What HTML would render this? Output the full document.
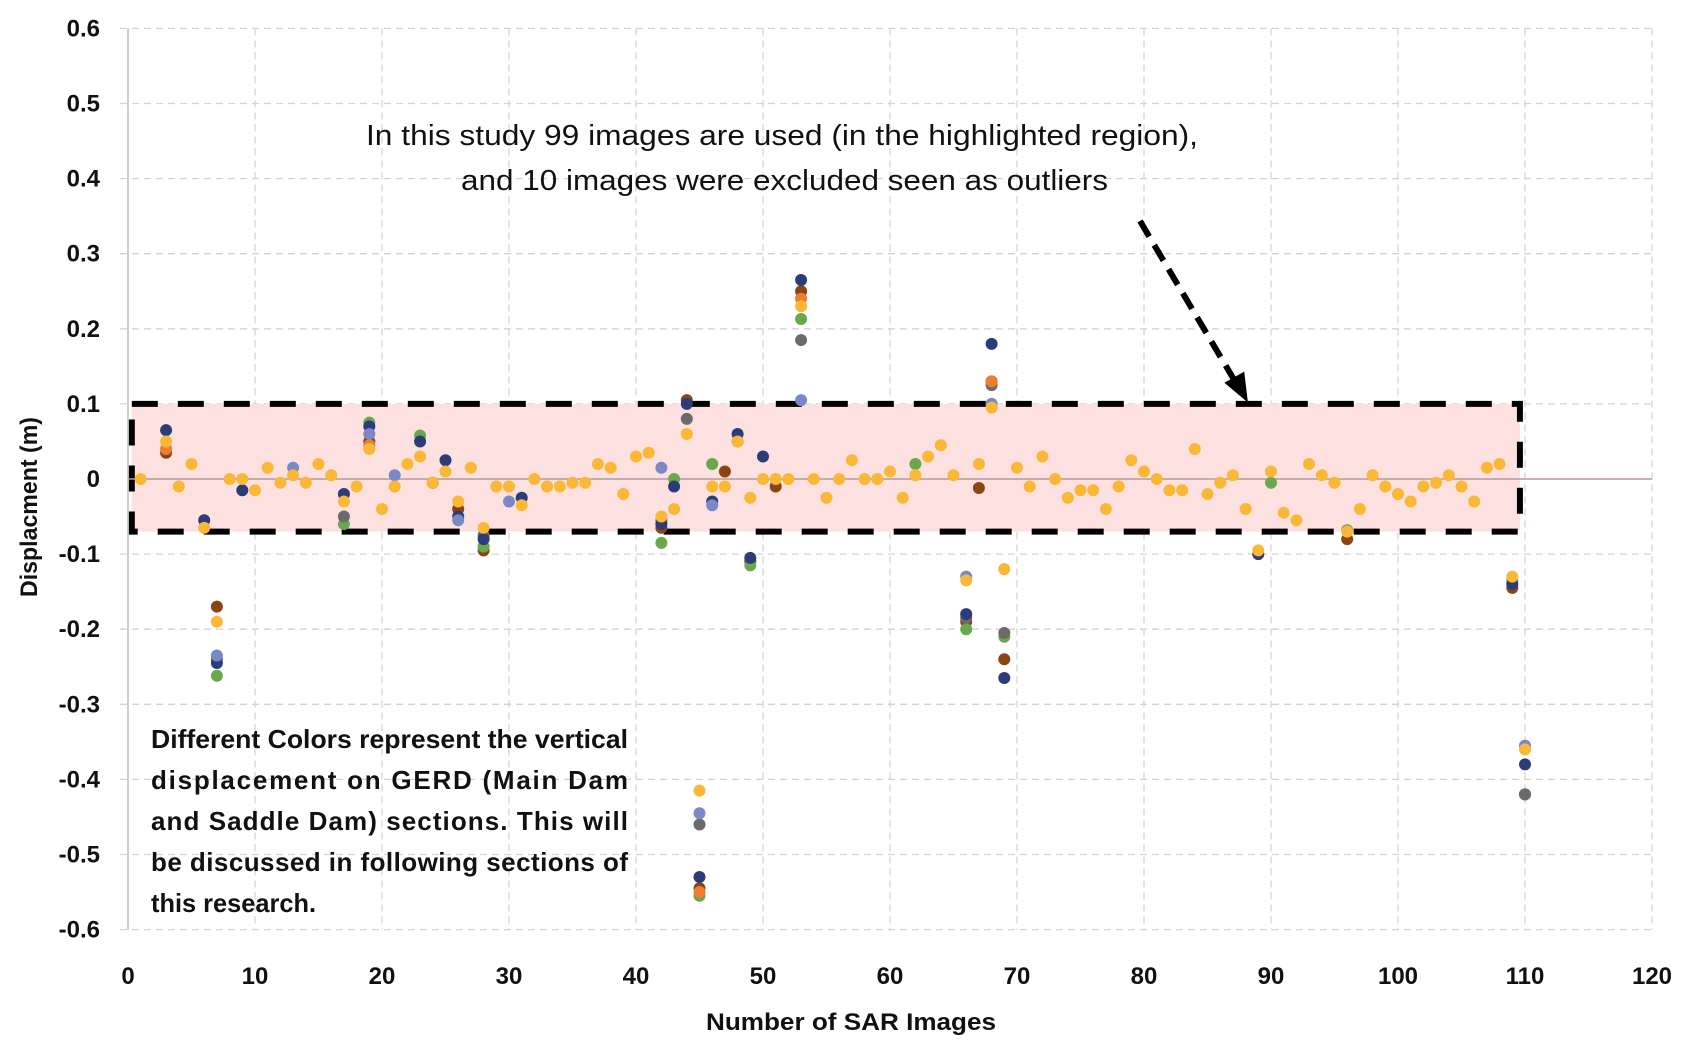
<!DOCTYPE html>
<html><head><meta charset="utf-8"><style>
html,body{margin:0;padding:0;background:#fff;}
svg{display:block;font-family:"Liberation Sans",sans-serif;}
</style></head><body>
<svg id="chart" width="1691" height="1054" viewBox="0 0 1691 1054" xmlns="http://www.w3.org/2000/svg">
<g id="grid"></g>
<rect id="hl" fill="#fde0e0" stroke="#000" stroke-width="6" stroke-dasharray="26,20"></rect>
<g id="axes"></g>
<g id="marks"></g>
<text x="366" y="145" font-size="29" textLength="832" lengthAdjust="spacingAndGlyphs" fill="#111">In this study 99 images are used (in the highlighted region),</text>
<text x="461" y="190" font-size="29" textLength="647" lengthAdjust="spacingAndGlyphs" fill="#111">and 10 images were excluded seen as outliers</text>
<line x1="1140" y1="221" x2="1236" y2="383" stroke="#000" stroke-width="6" stroke-dasharray="18,10"/>
<polygon points="1246,399 1227,383 1243,374" fill="#000" stroke="#000" stroke-width="3"/>
<g font-size="26" font-weight="bold" fill="#111">
<text x="151" y="748" textLength="477" lengthAdjust="spacingAndGlyphs">Different Colors represent the vertical</text>
<text x="151" y="789" textLength="477" lengthAdjust="spacing">displacement on GERD (Main Dam</text>
<text x="151" y="830" textLength="477" lengthAdjust="spacing">and Saddle Dam) sections. This will</text>
<text x="151" y="871" textLength="477" lengthAdjust="spacing">be discussed in following sections of</text>
<text x="151" y="912" textLength="165" lengthAdjust="spacingAndGlyphs">this research.</text>
</g>
<text x="851" y="1030" font-size="24" font-weight="bold" text-anchor="middle" textLength="290" lengthAdjust="spacingAndGlyphs" fill="#111">Number of SAR Images</text>
<text transform="translate(37,507) rotate(-90)" font-size="24" font-weight="bold" text-anchor="middle" textLength="180" lengthAdjust="spacingAndGlyphs" fill="#111">Displacment  (m)</text>
</svg>
<script>
const xTicks=[0,10,20,30,40,50,60,70,80,90,100,110,120];
const yTicks=[0.6,0.5,0.4,0.3,0.2,0.1,0,-0.1,-0.2,-0.3,-0.4,-0.5,-0.6];
const yTickLabels=["0.6","0.5","0.4","0.3","0.2","0.1","0","-0.1","-0.2","-0.3","-0.4","-0.5","-0.6"];
const highlightRange=[0.3,109.6,0.1,-0.07];
const goldY=[0,null,0.05,-0.01,0.02,-0.065,-0.19,0,0,-0.015,0.015,-0.005,0.005,-0.005,0.02,0.005,-0.03,-0.01,0.04,-0.04,-0.01,0.02,0.03,-0.005,0.01,-0.03,0.015,-0.065,-0.01,-0.01,-0.035,0,-0.01,-0.01,-0.005,-0.005,0.02,0.015,-0.02,0.03,0.035,-0.05,-0.04,0.06,-0.415,-0.01,-0.01,0.05,-0.025,0,0,0,0.23,0,-0.025,0,0.025,0,0,0.01,-0.025,0.005,0.03,0.045,0.005,-0.135,0.02,0.095,-0.12,0.015,-0.01,0.03,0,-0.025,-0.015,-0.015,-0.04,-0.01,0.025,0.01,0,-0.015,-0.015,0.04,-0.02,-0.005,0.005,-0.04,-0.095,0.01,-0.045,-0.055,0.02,0.005,-0.005,-0.07,-0.04,0.005,-0.01,-0.02,-0.03,-0.01,-0.005,0.005,-0.01,-0.03,0.015,0.02,-0.13,-0.36];
const navyX=[3,6,7,9,17,19,23,25,26,28,31,42,43,44,45,46,48,49,50,53,66,68,69,89,109,110];
const navyY=[0.065,-0.055,-0.245,-0.015,-0.02,0.07,0.05,0.025,-0.05,-0.08,-0.025,-0.06,-0.01,0.1,-0.53,-0.03,0.06,-0.105,0.03,0.265,-0.18,0.18,-0.265,-0.1,-0.14,-0.38];
const brownX=[3,7,19,24,26,28,42,44,45,47,49,51,53,66,67,68,69,96,109,110];
const brownY=[0.035,-0.17,0.05,-0.005,-0.04,-0.095,-0.065,0.105,-0.545,0.01,-0.11,-0.01,0.25,-0.19,-0.012,0.13,-0.24,-0.08,-0.145,-0.42];
const greenX=[7,17,19,23,28,42,43,45,46,49,53,62,66,68,69,90,96,109,110];
const greenY=[-0.262,-0.06,0.075,0.058,-0.09,-0.085,0,-0.555,0.02,-0.115,0.213,0.02,-0.2,0.1,-0.21,-0.005,-0.068,-0.135,-0.42];
const grayX=[7,17,28,42,44,45,48,53,66,68,69,110];
const grayY=[-0.24,-0.05,-0.075,-0.055,0.08,-0.46,0.05,0.185,-0.185,0.125,-0.205,-0.42];
const periX=[7,13,19,21,26,30,42,45,46,53,66,68,110];
const periY=[-0.235,0.015,0.06,0.005,-0.055,-0.03,0.015,-0.445,-0.035,0.105,-0.13,0.1,-0.355];
const orangeX=[3,19,45,53,68];
const orangeY=[0.04,0.045,-0.55,0.24,0.13];

const X0=128,X1=1652,Y0=479,PY=751;
const sx=v=>X0+(v-0)*(X1-X0)/120;
const sy=v=>Y0-v*PY;
const NS="http://www.w3.org/2000/svg";
function mk(tag,parent,attrs){const e=document.createElementNS(NS,tag);for(const k in attrs)e.setAttribute(k,attrs[k]);parent.appendChild(e);return e;}
const grid=document.getElementById('grid'),axes=document.getElementById('axes'),marks=document.getElementById('marks');
yTicks.forEach((v,i)=>{
  if(v!==0){const l=mk('line',grid,{x1:X0-8,x2:X1,y1:sy(v),y2:sy(v),stroke:'#d4d4d4','stroke-width':1.3,'stroke-dasharray':'7,5'});
  
  }
  const t=mk('text',axes,{x:100,y:sy(v)+8,'font-size':24,'font-weight':'bold','text-anchor':'end',fill:'#111'});
  t.textContent=yTickLabels[i];
  
  
});
xTicks.forEach(v=>{
  if(v!==0){const l=mk('line',grid,{x1:sx(v),x2:sx(v),y1:sy(0.6),y2:sy(-0.6),stroke:'#d4d4d4','stroke-width':1.3,'stroke-dasharray':'7,5'});
  
  }
  const t=mk('text',axes,{x:sx(v),y:984,'font-size':24,'font-weight':'bold','text-anchor':'middle',fill:'#111'});
  t.textContent=String(v);
  
  
});
const ya=mk('line',axes,{x1:X0,x2:X0,y1:sy(0.6),y2:sy(-0.6),stroke:'#bdbdbd','stroke-width':1.5});


const za=mk('line',axes,{x1:X0,x2:X1,y1:sy(0),y2:sy(0),stroke:'#b49a9a','stroke-width':1.5});


const hl=document.getElementById('hl');
hl.setAttribute('x',sx(highlightRange[0]));hl.setAttribute('width',sx(highlightRange[1])-sx(highlightRange[0]));
hl.setAttribute('y',sy(highlightRange[2]));hl.setAttribute('height',sy(highlightRange[3])-sy(highlightRange[2]));
function series(xs,ys,color,name){
  xs.forEach((x,i)=>{if(ys[i]===null)return;
    const c=mk('circle',marks,{cx:sx(x),cy:sy(ys[i]),r:6,fill:color});
    
    });
}
series(brownX,brownY,'#8b4513','point-brown');
series(greenX,greenY,'#6aa84f','point-green');
series(grayX,grayY,'#6b6b6b','point-gray');
series(navyX,navyY,'#2b3c78','point-navy');
series(periX,periY,'#7b88c8','point-periwinkle');
series(orangeX,orangeY,'#ed7d31','point-orange');
series(goldY.map((v,i)=>i+1),goldY,'#fbb836','point-gold');
</script>
</body></html>
